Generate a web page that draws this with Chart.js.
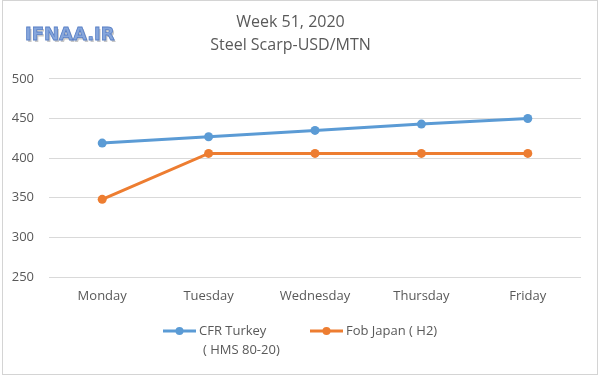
<!DOCTYPE html>
<html>
<head>
<meta charset="utf-8">
<script src="https://cdn.jsdelivr.net/npm/chart.js@4/dist/chart.umd.min.js"></script>
<style>
  html, body { margin: 0; padding: 0; background: #fff; }
  #wrap { width: 600px; height: 376px; position: relative; }
</style>
</head>
<body>
<div id="wrap"><canvas id="c" width="600" height="376"></canvas></div>
<script>
const categories = ['Monday', 'Tuesday', 'Wednesday', 'Thursday', 'Friday'];
const cfrTurkey = [419, 427, 435, 443, 450];
const fobJapan = [348, 406, 406, 406, 406];
const seriesLabels = [['CFR Turkey', '( HMS 80-20)'], ['Fob Japan ( H2)']];
const titleLines = ['Week 51, 2020', 'Steel Scarp-USD/MTN'];
const yMin = 250, yMax = 500, yStep = 50;
const watermark = 'IFNAA.IR';

const BLUE = '#5B9BD5', ORANGE = '#ED7D31', TEXT = '#595959';
const FONT = "'Open Sans', 'Noto Sans', sans-serif";

const decor = {
  id: 'decor',
  beforeDraw(chart) {
    const ctx = chart.ctx;
    ctx.save();
    ctx.fillStyle = '#fff';
    ctx.fillRect(0, 0, chart.width, chart.height);
    ctx.restore();
  },
  afterDraw(chart) {
    const ctx = chart.ctx;
    ctx.save();
    // border
    ctx.strokeStyle = '#d4d4d4';
    ctx.lineWidth = 1;
    ctx.strokeRect(2.5, 0.5, 595, 374);
    // watermark
    ctx.font = "bold 18px 'DejaVu Sans', sans-serif";
    ctx.textBaseline = 'middle';
    ctx.textAlign = 'left';
    ctx.fillStyle = 'rgba(130,130,130,0.45)';
    ctx.fillText(watermark, 26.5, 37);
    ctx.fillStyle = '#86a6dc';
    ctx.fillText(watermark, 25, 35.5);
    ctx.strokeStyle = '#5a80c6';
    ctx.lineWidth = 0.8;
    ctx.strokeText(watermark, 25, 35.5);
    // legend
    const items = [
      { x: 163, color: BLUE, lines: chart.data.datasets[0].label },
      { x: 310, color: ORANGE, lines: chart.data.datasets[1].label }
    ];
    const y0 = 331;
    ctx.font = "13px " + FONT;
    items.forEach(it => {
      ctx.strokeStyle = it.color;
      ctx.lineWidth = 3;
      ctx.beginPath();
      ctx.moveTo(it.x, y0);
      ctx.lineTo(it.x + 33, y0);
      ctx.stroke();
      ctx.fillStyle = it.color;
      ctx.beginPath();
      ctx.arc(it.x + 16.5, y0, 4, 0, Math.PI * 2);
      ctx.fill();
      ctx.fillStyle = TEXT;
      ctx.textBaseline = 'middle';
      const lines = Array.isArray(it.lines) ? it.lines : [it.lines];
      lines.forEach((t, i) => {
        ctx.fillText(t, it.x + 36 + (i > 0 ? 4 : 0), y0 + i * 19);
      });
    });
    ctx.restore();
  }
};

new Chart(document.getElementById('c'), {
  type: 'line',
  data: {
    labels: categories,
    datasets: [
      {
        label: seriesLabels[0],
        data: cfrTurkey,
        borderColor: BLUE,
        backgroundColor: BLUE,
        borderWidth: 3,
        pointRadius: 4.5,
        pointHoverRadius: 4.5,
        pointBorderWidth: 0,
        tension: 0
      },
      {
        label: seriesLabels[1],
        data: fobJapan,
        borderColor: ORANGE,
        backgroundColor: ORANGE,
        borderWidth: 3,
        pointRadius: 4.5,
        pointHoverRadius: 4.5,
        pointBorderWidth: 0,
        tension: 0
      }
    ]
  },
  options: {
    responsive: false,
    animation: false,
    devicePixelRatio: 1,
    layout: { padding: { left: 0, right: 19, top: 0, bottom: 0 } },
    plugins: {
      legend: { display: false },
      tooltip: { enabled: false },
      title: {
        display: true,
        text: titleLines,
        color: TEXT,
        font: { family: FONT, size: 16, weight: 'normal', lineHeight: 1.45 },
        padding: { top: 10.5, bottom: 22 }
      }
    },
    scales: {
      x: {
        offset: true,
        grid: { display: false, drawTicks: false },
        border: { display: false },
        ticks: { color: TEXT, font: { family: FONT, size: 13 }, padding: 11, maxRotation: 0 },
        afterFit(scale) { scale.height = 376 - 277; }
      },
      y: {
        min: yMin,
        max: yMax,
        ticks: { stepSize: yStep, color: TEXT, font: { family: FONT, size: 13 }, padding: 15 },
        grid: { color: '#d9d9d9', lineWidth: 1, drawTicks: false },
        border: { display: false },
        afterFit(scale) { scale.width = 49; }
      }
    }
  },
  plugins: [decor]
});
</script>
</body>
</html>
